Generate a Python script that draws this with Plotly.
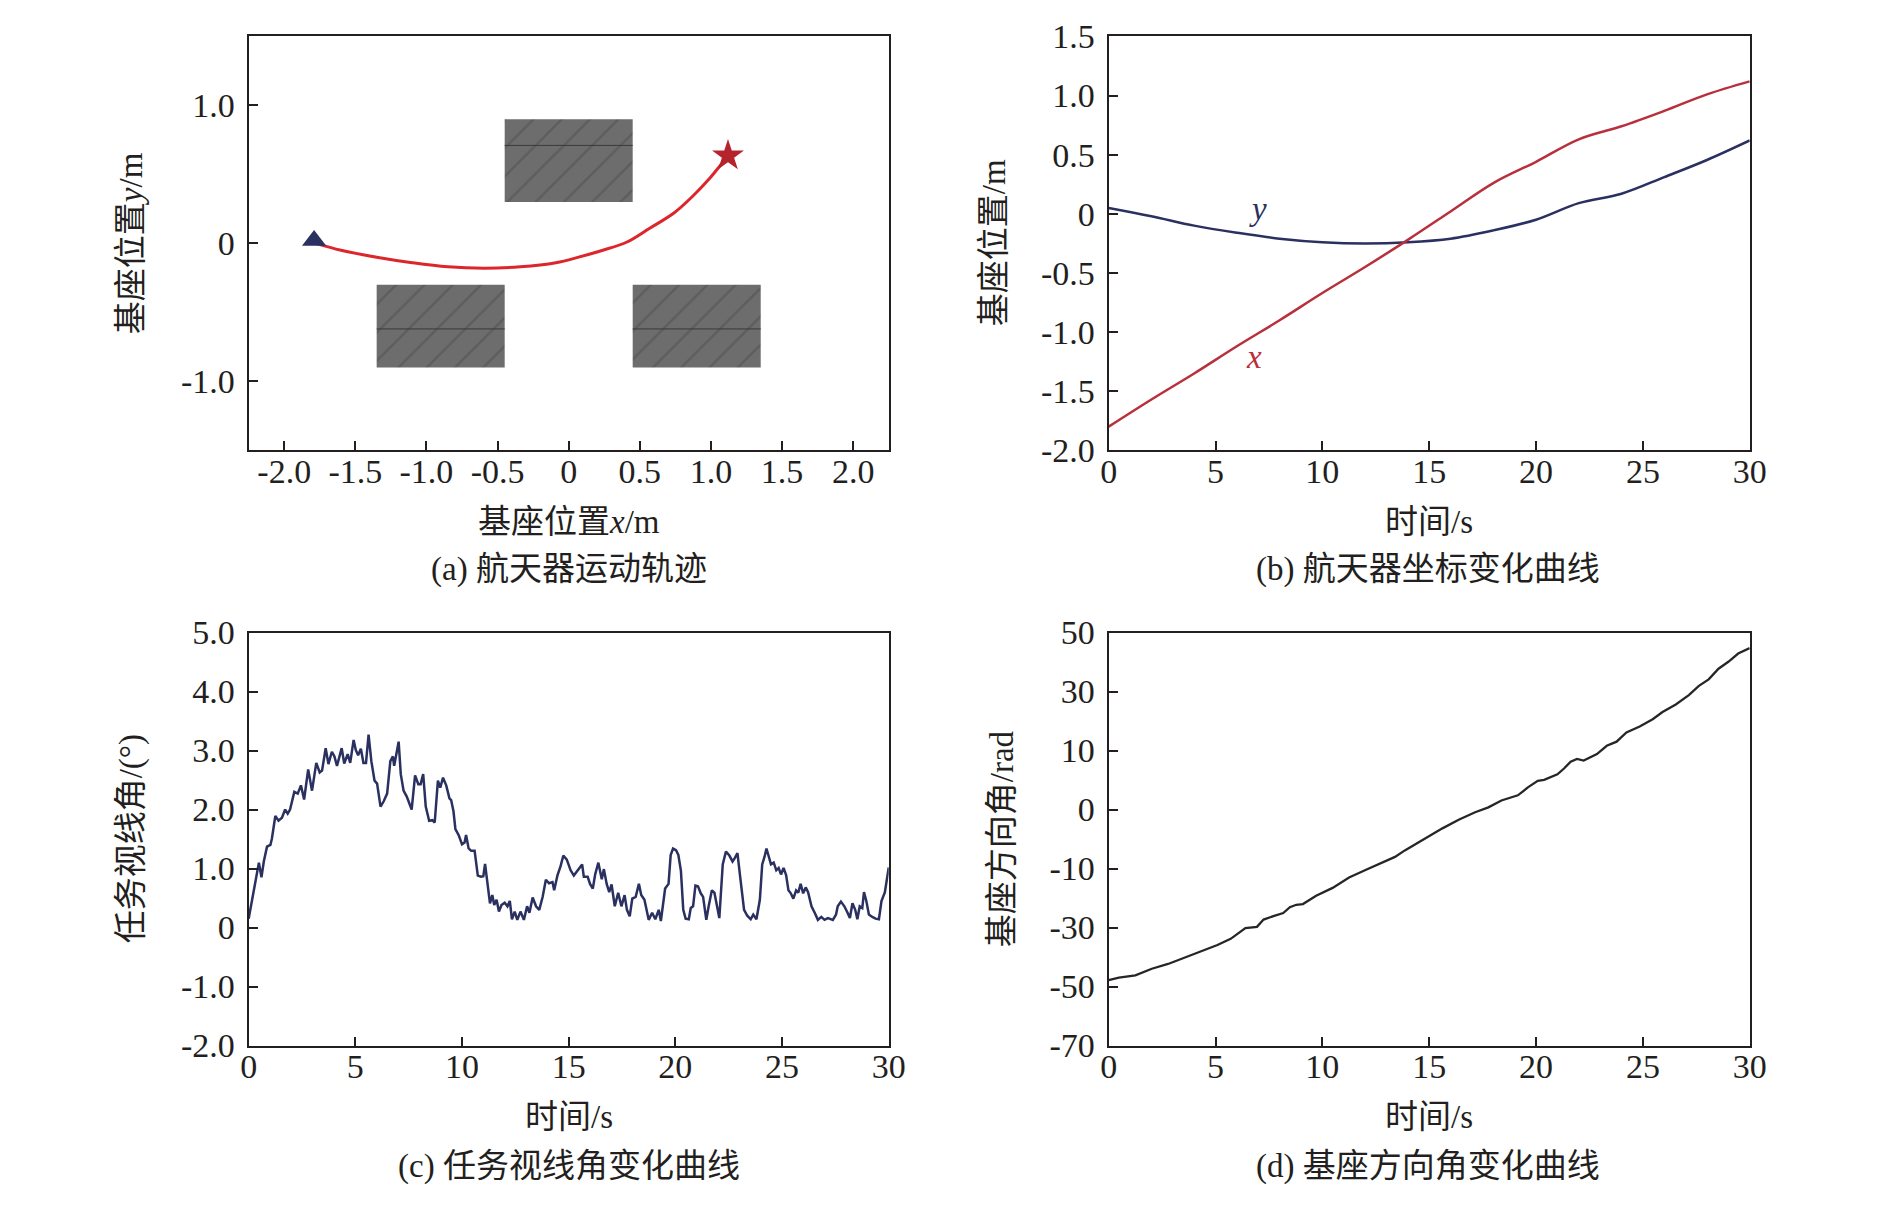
import plotly.graph_objects as go

# ---------------- data ----------------

# (a) trajectory of the base in the plane
traj_x = [-1.78, -1.60, -1.35, -1.10, -0.85, -0.59, -0.34, -0.09, 0.07, 0.24,
          0.41, 0.57, 0.74, 0.87, 0.99, 1.07, 1.12]
traj_y = [0.00, -0.05, -0.10, -0.14, -0.17, -0.18, -0.17, -0.14, -0.10, -0.05,
          0.01, 0.11, 0.22, 0.34, 0.47, 0.57, 0.63]
start_pt = [-1.79, 0.02]
goal_pt = [1.12, 0.635]

# obstacles: x0, x1, y0, y1 and the thin seam line inside each block
obs_x0 = [-0.45, -1.35, 0.45]
obs_x1 = [0.45, -0.45, 1.35]
obs_y0 = [0.30, -0.90, -0.90]
obs_y1 = [0.90, -0.30, -0.30]
obs_seam_y = [0.71, -0.62, -0.62]

# (b) coordinates against time
t_b = [0, 2, 4, 6, 8, 10, 12, 14, 16, 18, 20, 22, 24, 26, 28, 30]
x_b = [-1.80, -1.57, -1.35, -1.12, -0.90, -0.67, -0.45, -0.22, 0.02, 0.26,
       0.44, 0.63, 0.74, 0.87, 1.01, 1.12]
y_b = [0.05, -0.02, -0.10, -0.16, -0.21, -0.24, -0.25, -0.24, -0.21, -0.14,
       -0.05, 0.09, 0.17, 0.31, 0.455, 0.62]

# (c) line-of-sight angle
t_c = [0.0, 0.05, 0.17, 0.25, 0.35, 0.48, 0.60, 0.71, 0.86, 1.02, 1.09, 1.25,
       1.40, 1.56, 1.71, 1.83, 1.94, 2.14, 2.30, 2.45, 2.60, 2.79, 2.97, 3.17,
       3.33, 3.44, 3.61, 3.74, 3.90, 4.02, 4.14, 4.36, 4.48, 4.64, 4.76, 4.92,
       5.02, 5.13, 5.26, 5.38, 5.50, 5.62, 5.75, 5.90, 6.02, 6.18, 6.33, 6.49,
       6.64, 6.76, 6.82, 6.92, 7.03, 7.13, 7.26, 7.41, 7.64, 7.80, 7.95, 8.06,
       8.18, 8.30, 8.46, 8.61, 8.72, 8.87, 8.98, 9.11, 9.26, 9.41, 9.49, 9.60,
       9.69, 9.85, 10.0, 10.12, 10.19, 10.31, 10.43, 10.59, 10.74, 10.89, 11.0,
       11.08, 11.20, 11.31, 11.42, 11.51, 11.62, 11.73, 11.85, 12.0, 12.13,
       12.24, 12.34, 12.47, 12.59, 12.74, 12.90, 13.05, 13.16, 13.31, 13.47,
       13.62, 13.78, 13.93, 14.08, 14.24, 14.32, 14.47, 14.62, 14.75, 14.91,
       15.09, 15.24, 15.39, 15.52, 15.63, 15.71, 15.89, 16.0, 16.13, 16.24,
       16.39, 16.55, 16.65, 16.78, 16.90, 17.01, 17.16, 17.32, 17.47, 17.62,
       17.73, 17.86, 17.98, 18.14, 18.29, 18.40, 18.55, 18.75, 18.91, 19.06,
       19.22, 19.32, 19.40, 19.52, 19.68, 19.78, 19.89, 20.03, 20.14, 20.26,
       20.37, 20.48, 20.63, 20.72, 20.83, 20.94, 21.06, 21.19, 21.30, 21.45,
       21.56, 21.71, 21.83, 21.99, 22.06, 22.22, 22.37, 22.53, 22.68, 22.79,
       22.91, 23.04, 23.22, 23.37, 23.53, 23.65, 23.80, 23.96, 24.07, 24.18,
       24.27, 24.38, 24.48, 24.61, 24.73, 24.84, 24.95, 25.07, 25.19, 25.30,
       25.41, 25.53, 25.66, 25.76, 25.87, 25.99, 26.11, 26.22, 26.38, 26.53,
       26.68, 26.84, 26.99, 27.15, 27.38, 27.53, 27.61, 27.76, 27.92, 28.07,
       28.18, 28.30, 28.43, 28.53, 28.64, 28.76, 28.84, 28.95, 29.07, 29.23,
       29.38, 29.54, 29.66, 29.82, 29.92, 30.0]
v_c = [0.15, 0.25, 0.52, 0.68, 0.85, 1.10, 0.85, 1.12, 1.37, 1.40, 1.51, 1.89,
       1.81, 1.86, 2.00, 1.93, 2.00, 2.30, 2.27, 2.41, 2.17, 2.68, 2.32, 2.79,
       2.63, 2.66, 3.04, 2.77, 2.98, 2.90, 2.74, 3.04, 2.78, 2.94, 2.79, 3.18,
       3.01, 2.92, 3.03, 2.79, 2.79, 3.27, 2.82, 2.49, 2.44, 2.05, 2.14, 2.27,
       2.82, 2.90, 2.74, 2.93, 3.15, 2.60, 2.32, 2.22, 2.00, 2.58, 2.43, 2.43,
       2.60, 2.05, 1.81, 1.82, 1.78, 2.49, 2.37, 2.54, 2.41, 2.19, 2.16, 1.97,
       1.67, 1.56, 1.41, 1.44, 1.57, 1.34, 1.30, 1.30, 0.88, 0.86, 0.87,
       1.08, 0.74, 0.41, 0.55, 0.38, 0.47, 0.27, 0.38, 0.42, 0.36,
       0.45, 0.14, 0.27, 0.13, 0.27, 0.13, 0.36, 0.25, 0.51, 0.36,
       0.30, 0.52, 0.81, 0.75, 0.77, 0.63, 0.88, 1.04, 1.22, 1.15,
       0.97, 0.88, 0.95, 1.02, 1.07, 0.86, 0.86, 0.74, 0.66, 0.90,
       1.10, 0.82, 0.99, 0.74, 0.60, 0.73, 0.36, 0.59, 0.36, 0.55,
       0.30, 0.19, 0.49, 0.52, 0.74, 0.55, 0.47, 0.13, 0.25, 0.14,
       0.30, 0.11, 0.36, 0.66, 0.74, 1.23, 1.34, 1.31, 1.23, 0.96,
       0.30, 0.15, 0.14, 0.33, 0.36, 0.71, 0.70, 0.58, 0.52, 0.13,
       0.36, 0.63, 0.59, 0.30, 0.16, 1.07, 1.29, 1.22, 1.12, 1.18,
       1.26, 0.85, 0.30, 0.20, 0.14, 0.22, 0.14, 0.47, 1.07, 1.20,
       1.34, 1.20, 1.07, 1.10, 0.97, 1.01, 0.90, 1.01, 0.89, 0.63,
       0.58, 0.49, 0.63, 0.59, 0.74, 0.58, 0.68, 0.60, 0.36, 0.25,
       0.13, 0.18, 0.13, 0.16, 0.13, 0.22, 0.36, 0.44, 0.36, 0.25,
       0.16, 0.41, 0.30, 0.14, 0.36, 0.33, 0.60, 0.45, 0.22, 0.18,
       0.15, 0.14, 0.45, 0.60, 0.85, 1.02]

# (d) base heading angle (axis drawn linearly, labels copied as printed)
t_d = [0.0, 0.48, 1.25, 2.02, 2.78, 3.55, 4.32, 5.09, 5.71, 6.02, 6.40, 6.94,
       7.25, 7.71, 8.17, 8.48, 8.78, 9.09, 9.71, 10.48, 11.25, 12.02, 12.78,
       13.40, 13.86, 14.48, 15.05, 15.62, 16.38, 17.15, 17.77, 18.38, 19.15,
       19.62, 20.08, 20.38, 21.00, 21.31, 21.62, 21.92, 22.23, 22.85, 23.31,
       23.77, 24.23, 24.85, 25.46, 25.92, 26.54, 27.15, 27.62, 28.08, 28.54,
       29.00, 29.46, 30.0]
v_d = [-51.0, -50.3, -49.6, -47.7, -46.3, -44.4, -42.5, -40.8, -39.0, -37.5,
       -35.9, -35.5, -33.4, -32.4, -31.5, -29.8, -29.1, -28.9, -26.5, -24.2,
       -21.2, -19.0, -16.9, -15.2, -13.3, -11.0, -8.9, -6.9, -4.4, -2.2, -0.8,
       1.2, 2.7, 5.0, 6.9, 7.2, 8.8, 10.5, 12.5, 13.3, 12.8, 14.7, 17.1, 18.3,
       21.0, 22.7, 24.8, 26.9, 29.1, 31.8, 34.5, 36.4, 39.5, 41.5, 43.9, 45.5]
d_tickvals = [-70, -52.857, -35.714, -18.571, -1.429, 15.714, 32.857, 50]
d_ticktext = ["-70", "-50", "-30", "-10", "0", "10", "30", "50"]

# ---------------- styling ----------------
W, H = 1890, 1207
INK = "#231f20"
NAVY = "#2a3060"
RED_A = "#dc262b"
RED_B = "#b8303c"
FONT = "Liberation Serif, Noto Sans CJK SC"
FS_TICK = 34
FS_TEXT = 33

# plot boxes in pixels (left, right, top, bottom)
boxes = {
    "a": (243, 892, 19, 446),
    "b": (1115, 1765, 19, 446),
    "c": (243, 892, 634, 1060),
    "d": (1115, 1765, 634, 1060),
}


def px(v):
    return v / W


def py_(v):
    return 1 - v / H


def base_axis(**kw):
    d = dict(showline=True, linecolor=INK, linewidth=2, mirror=True,
             ticks="inside", ticklen=9, tickwidth=2, tickcolor=INK,
             showgrid=False, zeroline=False,
             tickfont=dict(family=FONT, size=FS_TICK, color=INK))
    d.update(kw)
    return d


fig = go.Figure()

# ---- (a) ----
for i in range(len(obs_x0)):
    fig.add_trace(go.Scatter(
        x=[obs_x0[i], obs_x1[i], obs_x1[i], obs_x0[i], obs_x0[i]],
        y=[obs_y0[i], obs_y0[i], obs_y1[i], obs_y1[i], obs_y0[i]],
        mode="lines", fill="toself", fillcolor="#6d6d6d",
        fillpattern=dict(shape="/", fgcolor="#4e4e4e", bgcolor="#6d6d6d",
                         size=20, solidity=0.12),
        line=dict(width=0), xaxis="x", yaxis="y", hoverinfo="skip"))
    fig.add_trace(go.Scatter(
        x=[obs_x0[i], obs_x1[i]], y=[obs_seam_y[i], obs_seam_y[i]],
        mode="lines", line=dict(color="#3a3a3a", width=1),
        xaxis="x", yaxis="y", hoverinfo="skip"))

fig.add_trace(go.Scatter(x=traj_x, y=traj_y, mode="lines",
                         line=dict(color=RED_A, width=3, shape="spline"),
                         xaxis="x", yaxis="y"))
fig.add_trace(go.Scatter(x=[start_pt[0]], y=[start_pt[1]], mode="markers",
                         marker=dict(symbol="triangle-up", size=21, color=NAVY),
                         xaxis="x", yaxis="y"))
fig.add_trace(go.Scatter(x=[goal_pt[0]], y=[goal_pt[1]], mode="markers",
                         marker=dict(symbol="star", size=24, color="#b5232c"),
                         xaxis="x", yaxis="y"))

# ---- (b) ----
fig.add_trace(go.Scatter(x=t_b, y=y_b, mode="lines",
                         line=dict(color=NAVY, width=2.5, shape="spline"),
                         xaxis="x2", yaxis="y2"))
fig.add_trace(go.Scatter(x=t_b, y=x_b, mode="lines",
                         line=dict(color=RED_B, width=2.5, shape="spline"),
                         xaxis="x2", yaxis="y2"))

# ---- (c) ----
fig.add_trace(go.Scatter(x=t_c, y=v_c, mode="lines",
                         line=dict(color=NAVY, width=2.5),
                         xaxis="x3", yaxis="y3"))

# ---- (d) ----
fig.add_trace(go.Scatter(x=t_d, y=v_d, mode="lines",
                         line=dict(color="#262626", width=2.3),
                         xaxis="x4", yaxis="y4"))


def dom(key):
    l, r, t, b = boxes[key]
    return [px(l), px(r)], [py_(b), py_(t)]


xa, ya = dom("a")
xb, yb = dom("b")
xc, yc = dom("c")
xd, yd = dom("d")

t_ticks = [0, 5, 10, 15, 20, 25, 30]
XSTAND = -10   # pull x tick labels up towards the axis
YSTAND = 5

fig.update_layout(
    width=W, height=H, margin=dict(l=0, r=0, t=0, b=0),
    paper_bgcolor="white", plot_bgcolor="white", showlegend=False,
    font=dict(family=FONT, size=FS_TEXT, color=INK),
    xaxis=base_axis(domain=xa, anchor="y", range=[-2.25, 2.25],
                    tickvals=[-2, -1.5, -1, -0.5, 0, 0.5, 1, 1.5, 2],
                    ticktext=["-2.0", "-1.5", "-1.0", "-0.5", "0", "0.5",
                              "1.0", "1.5", "2.0"],
                    ticklabelstandoff=XSTAND),
    yaxis=base_axis(domain=ya, anchor="x", range=[-1.5, 1.5],
                    tickvals=[-1, 0, 1], ticktext=["-1.0", "0", "1.0"],
                    ticklabelstandoff=YSTAND),
    xaxis2=base_axis(domain=xb, anchor="y2", range=[0, 30], tickvals=t_ticks,
                     ticklabelstandoff=XSTAND),
    yaxis2=base_axis(domain=yb, anchor="x2", range=[-2, 1.5],
                     tickvals=[-2, -1.5, -1, -0.5, 0, 0.5, 1, 1.5],
                     ticktext=["-2.0", "-1.5", "-1.0", "-0.5", "0", "0.5",
                               "1.0", "1.5"],
                     ticklabelstandoff=YSTAND),
    xaxis3=base_axis(domain=xc, anchor="y3", range=[0, 30], tickvals=t_ticks,
                     ticklabelstandoff=XSTAND),
    yaxis3=base_axis(domain=yc, anchor="x3", range=[-2, 5],
                     tickvals=[-2, -1, 0, 1, 2, 3, 4, 5],
                     ticktext=["-2.0", "-1.0", "0", "1.0", "2.0", "3.0",
                               "4.0", "5.0"],
                     ticklabelstandoff=YSTAND),
    xaxis4=base_axis(domain=xd, anchor="y4", range=[0, 30], tickvals=t_ticks,
                     ticklabelstandoff=XSTAND),
    yaxis4=base_axis(domain=yd, anchor="x4", range=[-70, 50],
                     tickvals=d_tickvals, ticktext=d_ticktext,
                     ticklabelstandoff=YSTAND),
)

# curve labels in (b)
fig.add_annotation(x=7.0, y=0.04, xref="x2", yref="y2", text="<i>y</i>",
                   showarrow=False, font=dict(color=NAVY, size=FS_TEXT))
fig.add_annotation(x=6.8, y=-1.21, xref="x2", yref="y2", text="<i>x</i>",
                   showarrow=False, font=dict(color=RED_B, size=FS_TEXT))

# axis titles and captions
texts = [
    # (text, x px, y px, angle)
    ("基座位置<i>x</i>/m", 568, 520, 0),
    ("(a) 航天器运动轨迹", 568, 569, 0),
    ("时间/s", 1440, 520, 0),
    ("(b) 航天器坐标变化曲线", 1439, 569, 0),
    ("时间/s", 568, 1134, 0),
    ("(c) 任务视线角变化曲线", 568, 1185, 0),
    ("时间/s", 1440, 1134, 0),
    ("(d) 基座方向角变化曲线", 1439, 1185, 0),
    ("基座位置<i>y</i>/m", 124, 232, -90),
    ("基座位置/m", 999, 232, -90),
    ("任务视线角/(°)", 124, 847, -90),
    ("基座方向角/rad", 1007, 847, -90),
]
for txt, x, y, ang in texts:
    fig.add_annotation(x=px(x), y=py_(y), xref="paper", yref="paper",
                       text=txt, showarrow=False, textangle=ang,
                       xanchor="center", yanchor="middle",
                       font=dict(family=FONT, size=FS_TEXT, color=INK))

# page body has an 8px default margin; drop it so the figure sits at 0,0
fig.write_html("out.html", config={"displayModeBar": False},
               post_script="document.body.style.margin='0';"
                           "document.documentElement.style.overflow='hidden';")
